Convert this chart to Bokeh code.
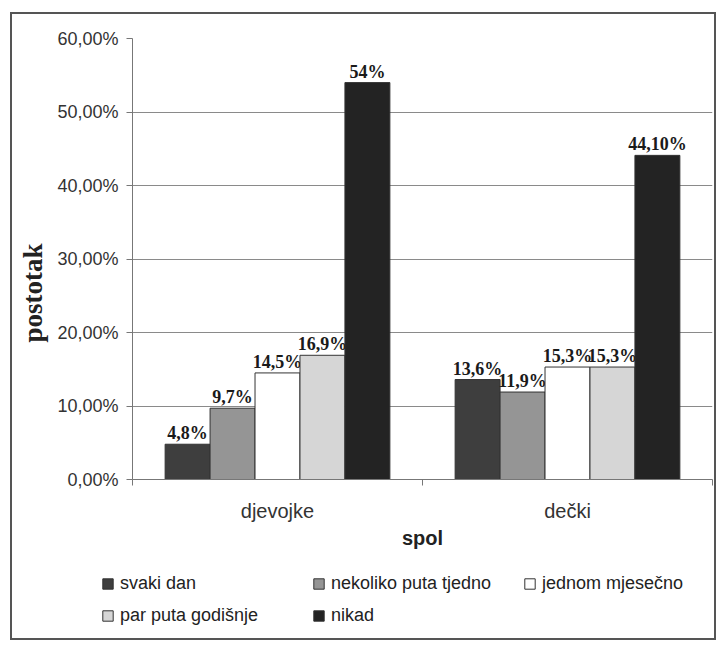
from bokeh.plotting import figure
from bokeh.layouts import column
from bokeh.models import (ColumnDataSource, FactorRange, Range1d, LinearAxis, CategoricalAxis,
                          FixedTicker, CustomJSTickFormatter, Legend, LegendItem, Title)
from bokeh.transform import dodge
from bokeh.core.properties import value
from bokeh.embed import file_html
from bokeh.resources import INLINE

# ---- data ----
categories = ["djevojke", "dečki"]
series_names = ["svaki dan", "nekoliko puta tjedno", "jednom mjesečno", "par puta godišnje", "nikad"]
svaki_dan = [4.8, 13.6]
nekoliko_puta_tjedno = [9.7, 11.9]
jednom_mjesecno = [14.5, 15.3]
par_puta_godisnje = [16.9, 15.3]
nikad = [54.0, 44.1]
labels_svaki_dan = ["4,8%", "13,6%"]
labels_nekoliko = ["9,7%", "11,9%"]
labels_jednom = ["14,5%", "15,3%"]
labels_par = ["16,9%", "15,3%"]
labels_nikad = ["54%", "44,10%"]
y_ticks = [0, 10, 20, 30, 40, 50, 60]

series_values = [svaki_dan, nekoliko_puta_tjedno, jednom_mjesecno, par_puta_godisnje, nikad]
series_labels = [labels_svaki_dan, labels_nekoliko, labels_jednom, labels_par, labels_nikad]
colors = ["#3e3e3e", "#959595", "#ffffff", "#d6d6d6", "#232323"]

data = {"cat": categories}
for i in range(5):
    data[f"v{i}"] = series_values[i]
    data[f"l{i}"] = series_labels[i]
src = ColumnDataSource(data)

p = figure(width=702, height=546, output_backend="svg", toolbar_location=None,
           x_range=FactorRange(factors=categories, range_padding=0),
           y_range=Range1d(0, 60), x_axis_location=None,
           min_border_left=119, min_border_top=24, min_border_right=2, min_border_bottom=81)
p.outline_line_color = None
p.background_fill_color = "white"
p.border_fill_color = "white"

# y axis
p.yaxis.ticker = FixedTicker(ticks=y_ticks)
p.yaxis.formatter = CustomJSTickFormatter(code="return tick.toFixed(2).replace('.', ',') + '%';")
p.yaxis.major_label_text_font = "Liberation Sans"
p.yaxis.major_label_text_font_size = "18px"
p.yaxis.major_label_text_color = "#333333"
p.yaxis.major_tick_out = 6
p.yaxis.major_tick_in = 0
p.yaxis.minor_tick_line_color = None
p.yaxis.axis_line_color = "#777777"
p.yaxis.major_tick_line_color = "#777777"
p.yaxis.major_label_standoff = 8
p.ygrid.grid_line_color = "#8a8a8a"
p.ygrid.grid_line_width = 1
p.xgrid.grid_line_color = None

# y axis title (placed off-centre like the reference)
p.add_layout(Title(text="postotak", align="left", offset=137, vertical_align="top",
                   text_font="Liberation Serif", text_font_style="bold", text_font_size="27px",
                   text_color="#222222"), "left")

# x axes: boundary ticks (synthetic category coordinates 0,1,2), then category labels
edge_axis = LinearAxis(ticker=FixedTicker(ticks=[0, 1, 2]),
                       major_label_text_font_size="0px", major_label_standoff=0,
                       major_tick_out=6, major_tick_in=0, minor_tick_line_color=None,
                       axis_line_color="#777777", major_tick_line_color="#777777")
edge_axis.major_label_overrides = {0: "", 1: "", 2: ""}
p.add_layout(edge_axis, "below")

cat_axis = CategoricalAxis(axis_line_color=None, major_tick_line_color=None, major_tick_out=0,
                           major_label_standoff=14, axis_label="spol", axis_label_standoff=2)
cat_axis.major_label_text_font = "Liberation Sans"
cat_axis.major_label_text_font_size = "20px"
cat_axis.major_label_text_color = "#333333"
cat_axis.axis_label_text_font = "Liberation Sans"
cat_axis.axis_label_text_font_size = "20px"
cat_axis.axis_label_text_font_style = "bold"
cat_axis.axis_label_text_color = "#222222"
p.add_layout(cat_axis, "below")

# bars
bw = 0.155
offsets = [-2 * bw, -bw, 0.0, bw, 2 * bw]
for i in range(5):
    p.vbar(x=dodge("cat", offsets[i], range=p.x_range), top=f"v{i}", width=bw, source=src,
           fill_color=colors[i], line_color="#333333", line_width=1)
    p.text(x=dodge("cat", offsets[i], range=p.x_range), y=f"v{i}", text=f"l{i}", source=src,
           text_align="center", text_baseline="alphabetic", y_offset=-11,
           text_font=value("Liberation Serif"), text_font_style="bold",
           text_font_size="18px", text_color="#1a1a1a")

# legend in its own strip below the chart (its bars lie below the strip's visible y-range)
lf = figure(width=702, height=78, output_backend="svg", toolbar_location=None,
            x_range=FactorRange(factors=categories, range_padding=0), y_range=Range1d(60, 120),
            x_axis_location=None, y_axis_location=None,
            min_border=0, min_border_left=0, min_border_right=0, min_border_top=0, min_border_bottom=0)
unaligned = True
try:
    lf.frame_align = False
except Exception:
    unaligned = False
lf.outline_line_color = None
lf.xgrid.grid_line_color = None
lf.ygrid.grid_line_color = None
lf.background_fill_color = "white"
lf.border_fill_color = "white"
items = []
for i in range(5):
    r = lf.vbar(x=dodge("cat", offsets[i], range=lf.x_range), top=f"v{i}", width=bw, source=src,
                fill_color=colors[i], line_color="#333333", line_width=1)
    items.append(LegendItem(label=series_names[i], renderers=[r]))
legend = Legend(items=items, location=(89 if unaligned else 0, 12), orientation="horizontal", ncols=3,
                glyph_width=13, glyph_height=13, label_standoff=6, label_width=181,
                label_height=21, spacing=11, padding=0, margin=0,
                label_text_font="Liberation Sans", label_text_font_size="18px",
                label_text_color="#222222", border_line_color=None, background_fill_alpha=0)
lf.add_layout(legend, "center")

layout = column(p, lf, spacing=0,
                styles={"border": "2px solid #555555", "margin-left": "10px", "margin-top": "12px"})

open("out.html", "w").write(file_html(layout, INLINE))
